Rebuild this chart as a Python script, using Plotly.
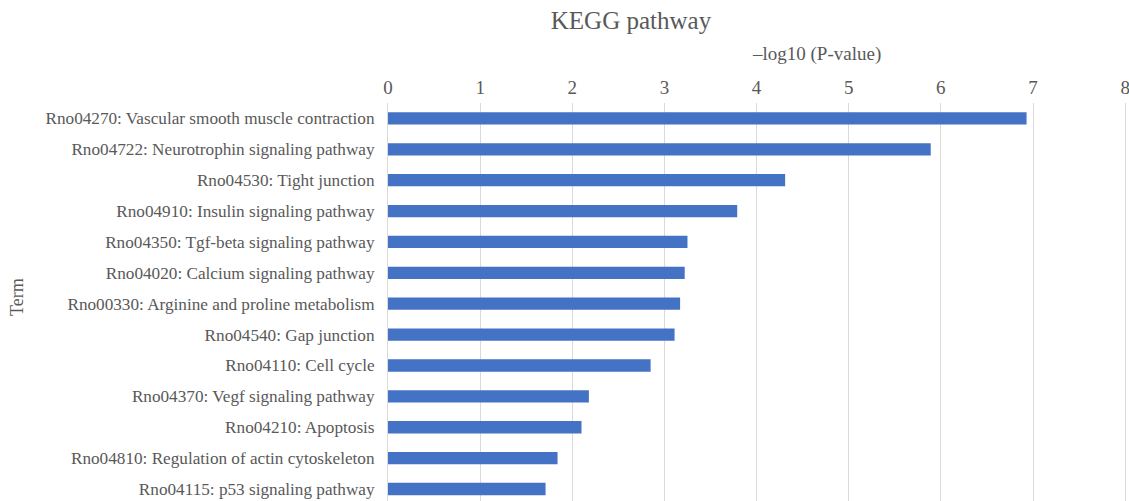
import plotly.graph_objects as go

terms = [
    "Rno04270: Vascular smooth muscle contraction",
    "Rno04722: Neurotrophin signaling pathway",
    "Rno04530: Tight junction",
    "Rno04910: Insulin signaling pathway",
    "Rno04350: Tgf-beta signaling pathway",
    "Rno04020: Calcium signaling pathway",
    "Rno00330: Arginine and proline metabolism",
    "Rno04540: Gap junction",
    "Rno04110: Cell cycle",
    "Rno04370: Vegf signaling pathway",
    "Rno04210: Apoptosis",
    "Rno04810: Regulation of actin cytoskeleton",
    "Rno04115: p53 signaling pathway",
]
neg_log10_p = [6.93, 5.89, 4.31, 3.79, 3.25, 3.22, 3.17, 3.11, 2.85, 2.18, 2.10, 1.84, 1.71]
x_ticks = [0, 1, 2, 3, 4, 5, 6, 7, 8]

FONT = "Liberation Serif"
GREY = "#595959"

L, R, T = 388, 2, 103
PW = 1129 - L - R
PH = 501 - T

fig = go.Figure(go.Bar(
    x=neg_log10_p,
    y=list(range(len(terms))),
    orientation="h",
    marker=dict(color="#4472C4", line=dict(width=0)),
))

fig.update_layout(
    width=1129, height=501,
    margin=dict(l=L, r=R, t=T, b=0),
    paper_bgcolor="white", plot_bgcolor="white",
    bargap=0.6,
    showlegend=False,
    font=dict(family=FONT, color=GREY, size=16),
    title=dict(text="KEGG pathway", x=631 / 1129, xanchor="center",
               y=1 - 20 / 501, yanchor="middle",
               font=dict(family=FONT, size=25, color=GREY)),
)
fig.update_xaxes(
    side="top", range=[0, 8.02], tickvals=x_ticks, ticktext=[str(v) for v in x_ticks],
    showgrid=True, gridcolor="#d9d9d9", gridwidth=1, zeroline=False,
    showline=False, ticks="", ticklabelstandoff=4,
    ticklabeloverflow="allow",
    tickfont=dict(family=FONT, size=19, color=GREY),
    automargin=False,
)
fig.update_yaxes(
    tickvals=list(range(len(terms))), ticktext=terms,
    range=[12.39, -0.5], showgrid=False, zeroline=False,
    showline=True, linecolor="#d9d9d9", linewidth=1, ticks="",
    ticklabelstandoff=9,
    tickfont=dict(family=FONT, size=17.2, color=GREY),
    automargin=False,
)
# axis titles placed as in the reference
fig.add_annotation(text="–log10 (P-value)", xref="paper", yref="paper",
                   x=(816 - L) / PW, y=1 + (T - 54) / PH,
                   xanchor="center", yanchor="middle", showarrow=False,
                   font=dict(family=FONT, size=19, color=GREY))
fig.add_annotation(text="Term", textangle=-90, xref="paper", yref="paper",
                   x=(17 - L) / PW, y=1 - (297 - T) / PH,
                   xanchor="center", yanchor="middle", showarrow=False,
                   font=dict(family=FONT, size=18, color=GREY))

fig.write_html("out.html")
